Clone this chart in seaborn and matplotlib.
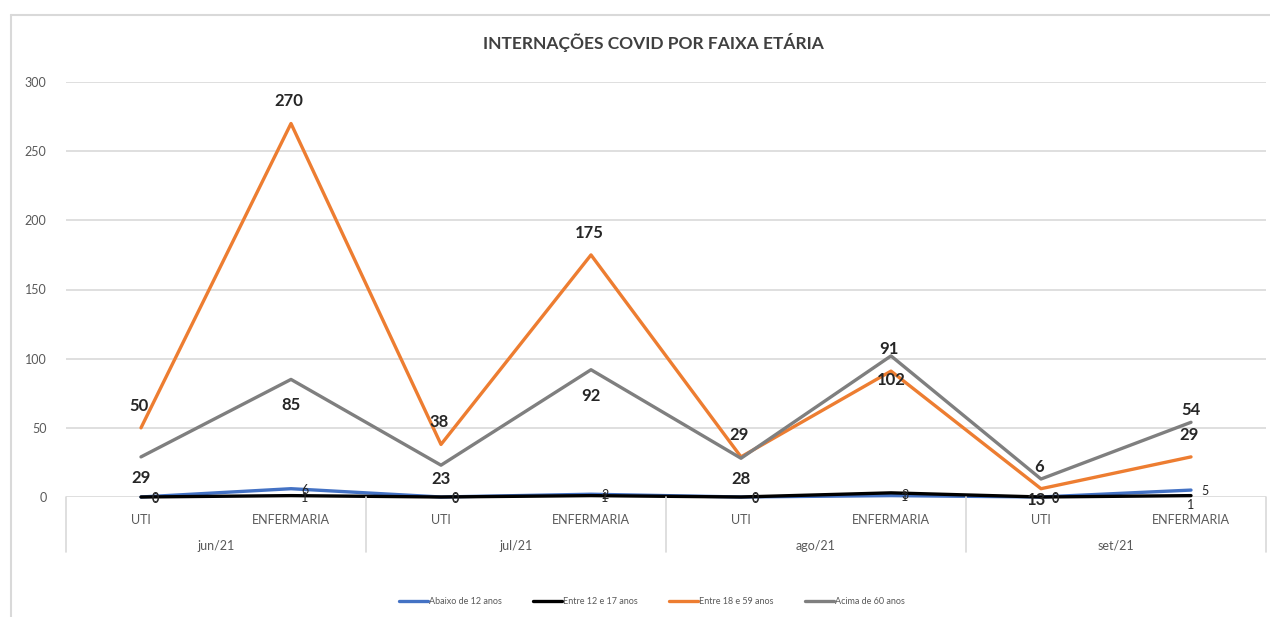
import matplotlib.pyplot as plt
import matplotlib.transforms as mtransforms
from matplotlib.lines import Line2D
import pandas as pd
import seaborn as sns

meses = ["jun/21", "jul/21", "ago/21", "set/21"]
leitos = ["UTI", "ENFERMARIA"]

series = ["Abaixo de 12 anos", "Entre 12 e 17 anos", "Entre 18 e 59 anos", "Acima de 60 anos"]
abaixo_12 = [0, 6, 0, 2, 0, 1, 0, 5]
entre_12_17 = [0, 1, 0, 1, 0, 3, 0, 1]
entre_18_59 = [50, 270, 38, 175, 29, 91, 6, 29]
acima_60 = [29, 85, 23, 92, 28, 102, 13, 54]

# texts shown on the labels (as in the original chart)
rotulos_18_59 = ["50", "270", "38", "175", "29", "91", "6", "29"]
rotulos_60 = ["29", "85", "23", "92", "28", "102", "13", "54"]

cores = ["#4472C4", "#000000", "#ED7D31", "#7F7F7F"]

sns.set_style("white")
plt.rcParams['font.family'] = ['Lato', 'DejaVu Sans']

categorias = [f"{m}|{l}" for m in meses for l in leitos]
pos = list(range(len(categorias)))
valores = [abaixo_12, entre_12_17, entre_18_59, acima_60]
df = pd.DataFrame({
    "pos": pos * 4,
    "valor": sum(valores, []),
    "serie": sum([[s] * len(pos) for s in series], []),
})

fig = plt.figure(figsize=(12.7, 6.17), dpi=100)
ax = fig.add_axes([66 / 1270, 1 - 497 / 617, 1200 / 1270, 415 / 617])

sns.lineplot(data=df, x="pos", y="valor", hue="serie", hue_order=series,
             palette=cores, linewidth=2.4, ax=ax, legend=True, clip_on=False)
handles, labels = ax.get_legend_handles_labels()
ax.get_legend().remove()

ax.set_xlim(-0.5, len(pos) - 0.5)
ax.set_ylim(0, 300)
ax.set_yticks(range(0, 301, 50))
ax.yaxis.grid(True, color="#D9D9D9", linewidth=1.2)
ax.set_axisbelow(True)
for s in ax.spines.values():
    s.set_visible(False)
ax.set_xlabel("")
ax.set_ylabel("")
ax.set_xticks(pos)
ax.set_xticklabels([l for m in meses for l in leitos])
ax.tick_params(axis="x", length=0, pad=12, labelsize=9, labelcolor="#595959")
ax.tick_params(axis="y", length=0, pad=14, labelsize=9, labelcolor="#595959")

# month groups below the axis
trans = mtransforms.blended_transform_factory(ax.transData, ax.transAxes)
grp_h = 55 / 415
for i in range(len(meses) + 1):
    ax.plot([2 * i - 0.5, 2 * i - 0.5], [0, -grp_h], transform=trans,
            color="#D9D9D9", linewidth=1.2, clip_on=False)
for i, m in enumerate(meses):
    ax.text(2 * i + 0.5, -49 / 415, m, transform=trans, ha="center", va="center",
            fontsize=9, color="#595959")

# data labels
k = 0.72  # px -> points at 100 dpi
def rotulo(x, y, txt, dx, dy, bold, size):
    ax.annotate(txt, (x, y), xytext=(dx * k, dy * k), textcoords="offset points",
                ha="center", va="center", fontsize=size, color="#262626",
                fontweight="bold" if bold else "normal", annotation_clip=False)

desl_60 = [-21, -26, -14, -26, -21, -24, -21, 12]
for i in pos:
    rotulo(i, entre_18_59[i], rotulos_18_59[i], -2, 22, True, 12)
    rotulo(i, acima_60[i], rotulos_60[i], -5 if i == 6 else 0, desl_60[i], True, 12)
    rotulo(i, abaixo_12[i], str(abaixo_12[i]), 14, -1, False, 9)
    if i == len(pos) - 1:
        rotulo(i, entre_12_17[i], str(entre_12_17[i]), 0, -9, False, 9)
    else:
        rotulo(i, entre_12_17[i], str(entre_12_17[i]), 14, -2, False, 9)

fig.suptitle("INTERNAÇÕES COVID POR FAIXA ETÁRIA", x=653 / 1270, y=1 - 42 / 617,
             va="center", fontsize=12.5, fontweight="bold", color="#404040")

fig.legend(handles, labels, loc="center", bbox_to_anchor=(652 / 1270, 1 - 602 / 617),
           ncol=4, frameon=False, fontsize=6.5, handlelength=3.2, handletextpad=0.1,
           columnspacing=3.5, labelcolor="#595959")

# chart outer border
fig.add_artist(Line2D([11 / 1270, 11 / 1270], [0, 1 - 15 / 617], transform=fig.transFigure,
                      color="#D9D9D9", linewidth=1.5))
fig.add_artist(Line2D([11 / 1270, 1], [1 - 15 / 617, 1 - 15 / 617], transform=fig.transFigure,
                      color="#D9D9D9", linewidth=1.5))

fig.savefig("out.png", dpi=100)
